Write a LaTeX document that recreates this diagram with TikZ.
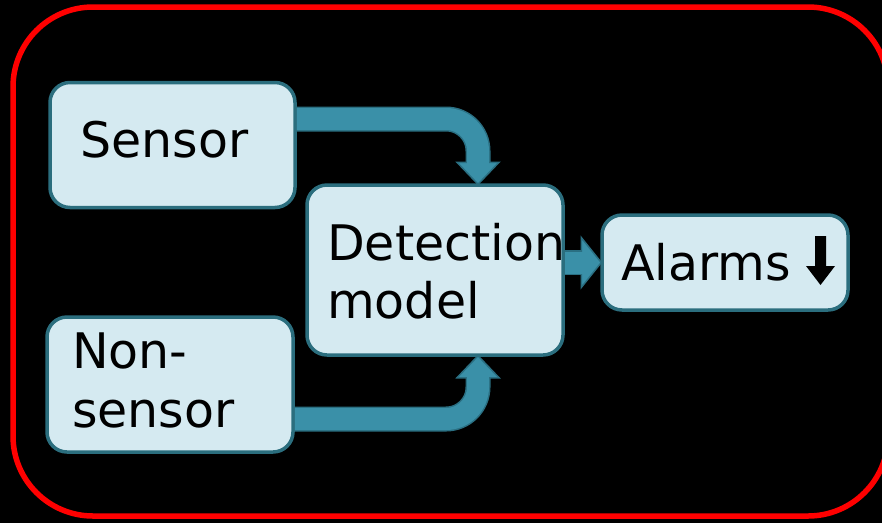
\documentclass[tikz,border=0pt]{standalone}
\usepackage{fontspec}
\setmainfont{DejaVu Sans}
\definecolor{boxline}{HTML}{2B6E7E}
\definecolor{boxfill}{HTML}{D5EAF1}
\definecolor{arrfill}{HTML}{3A90A8}
\definecolor{arrline}{HTML}{2A6F82}
\begin{document}
\begin{tikzpicture}[x=1pt,y=-1pt,
  box/.style={draw=boxline, line width=3.5pt, fill=boxfill, rounded corners=20pt, inner sep=0pt},
  lbl/.style={anchor=base west, inner sep=0pt, font=\fontsize{49}{58}\selectfont},
  shaft/.style={draw=arrfill, line width=22pt, rounded corners=32pt,
    preaction={draw=arrline, line width=25pt}},
  head/.style={fill=arrfill, draw=arrline, line width=1.5pt, line join=miter},
  patch/.style={fill=arrfill}]
\useasboundingbox (0,0) rectangle (882,523);
\fill[black] (0,0) rectangle (882,523);
\begin{scope}
\clip (0,0) rectangle (882,523);
\draw[red, line width=5.5pt, rounded corners=80pt] (13,7) rectangle (888,516);
\end{scope}
% boxes
\node[box, minimum width=245pt, minimum height=125pt] (sensor) at (172.5,145) {};
\node[box, minimum width=246pt, minimum height=135pt] (nonsensor) at (170,384.5) {};
\node[box, minimum width=256pt, minimum height=170pt] (detect) at (435,270) {};
\node[box, minimum width=246pt, minimum height=95pt] (alarms) at (725,262.5) {};
% arrows
\draw[shaft] ([yshift=26pt]sensor.east) -| ([xshift=43pt,yshift=18pt]detect.north);
\draw[head] ([xshift=43pt,yshift=-1pt]detect.north) coordinate (t1) -- ++(-21,-22) -- ++(42,0) -- cycle;
\fill[patch] ([xshift=-11pt]t1) ++(0,-24) rectangle ++(22,4);
\draw[shaft] ([yshift=-34.5pt]nonsensor.east) -| ([xshift=43pt,yshift=-18pt]detect.south);
\draw[head] ([xshift=43pt,yshift=1pt]detect.south) coordinate (t2) -- ++(-21,22) -- ++(42,0) -- cycle;
\fill[patch] ([xshift=-11pt]t2) ++(0,20) rectangle ++(22,4);
\draw[shaft, line width=22pt, preaction={draw=arrline, line width=24pt}] (detect.east |- alarms.west) -- ++(22,0);
\draw[head] ([xshift=1pt]alarms.west) coordinate (t3) -- ++(-20,-25) -- ++(0,50) -- cycle;
\fill[patch] (t3) ++(-22,-11) rectangle ++(4,22);
% labels
\node[lbl] (tsensor) at (80,157) {Sensor};
\node[lbl] (tnon) at (72,368) {Non-};
\node[lbl] (tnon2) at (72,427) {sensor};
\node[lbl] (tdet) at (327,260) {Detection};
\node[lbl] (tmod) at (327,318) {model};
\node[lbl] (talarm) at (621,280) {Alarms};
% down arrow glyph
\fill[black] (815,236) -- (826,236) -- (826,266) -- (835,266) -- (820.5,285) -- (806,266) -- (815,266) -- cycle;
\end{tikzpicture}
\end{document}
